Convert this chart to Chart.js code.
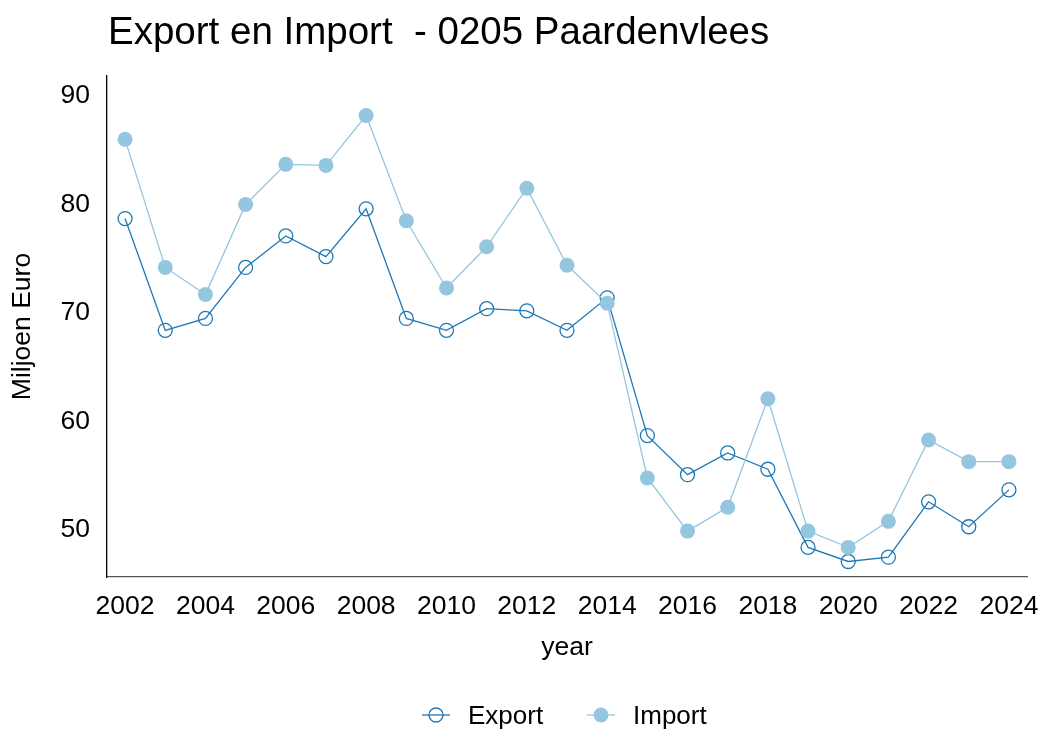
<!DOCTYPE html>
<html>
<head>
<meta charset="utf-8">
<script src="https://cdn.jsdelivr.net/npm/chart.js@4"></script>
<style>
  body { margin: 0; background: #fff; font-family: "Liberation Sans", Arial, sans-serif; }
  #wrap { position: relative; width: 1043px; height: 729px; }
  #title { position: absolute; left: 108px; top: 12px; font-size: 38.5px; line-height: 38px; color: #000; white-space: pre; }
  .item { position: absolute; top: 697px; display: flex; align-items: center; font-size: 26px; line-height: 36px; }
  .item svg { margin-right: 16px; }
</style>
</head>
<body>
<div id="wrap">
  <canvas id="tradeChart" width="1043" height="729"></canvas>
  <div id="title">Export en Import  - 0205 Paardenvlees</div>
  <div class="item" style="left: 420px;">
    <svg width="32" height="20"><line x1="2" y1="10" x2="30" y2="10" stroke="#1f78b4" stroke-width="1.3"/><circle cx="16" cy="10" r="7" fill="none" stroke="#1f78b4" stroke-width="1.3"/></svg>
    <span>Export</span>
  </div>
  <div class="item" style="left: 585px;">
    <svg width="32" height="20"><line x1="2" y1="10" x2="30" y2="10" stroke="#94c6e0" stroke-width="1.3"/><circle cx="16" cy="10" r="7.5" fill="#94c6e0"/></svg>
    <span>Import</span>
  </div>
</div>
<script>
// Data (miljoen euro)
const years = [2002, 2003, 2004, 2005, 2006, 2007, 2008, 2009, 2010, 2011, 2012,
               2013, 2014, 2015, 2016, 2017, 2018, 2019, 2020, 2021, 2022, 2023, 2024];
const exportValues = [78.7, 68.4, 69.5, 74.2, 77.1, 75.2, 79.6, 69.5, 68.4, 70.4, 70.2,
                      68.4, 71.4, 58.7, 55.1, 57.1, 55.6, 48.4, 47.1, 47.5, 52.6, 50.3, 53.7];
const importValues = [86.0, 74.2, 71.7, 80.0, 83.7, 83.6, 88.2, 78.5, 72.3, 76.1, 81.5,
                      74.4, 70.9, 54.8, 49.9, 52.1, 62.1, 49.9, 48.4, 50.8, 58.3, 56.3, 56.3];
const xTicks = [2002, 2004, 2006, 2008, 2010, 2012, 2014, 2016, 2018, 2020, 2022, 2024];
const yTicks = [50, 60, 70, 80, 90];

const exportColor = '#1f78b4';
const importColor = '#94c6e0';
const font = { family: '"Liberation Sans", Arial, sans-serif', size: 26.5 };

document.addEventListener('DOMContentLoaded', () => {
    const ctx = document.getElementById('tradeChart');
    new Chart(ctx, {
        type: 'line',
        data: {
            datasets: [{
                label: 'Export',
                data: years.map((y, i) => ({ x: y, y: exportValues[i] })),
                borderColor: exportColor,
                borderWidth: 1.3,
                pointRadius: 7,
                pointBorderWidth: 1.3,
                pointBorderColor: exportColor,
                pointBackgroundColor: 'rgba(0,0,0,0)',
                tension: 0,
                order: 1,
                clip: false
            }, {
                label: 'Import',
                data: years.map((y, i) => ({ x: y, y: importValues[i] })),
                borderColor: importColor,
                borderWidth: 1.3,
                pointRadius: 7.5,
                pointBorderWidth: 0,
                pointBackgroundColor: importColor,
                tension: 0,
                order: 0,
                clip: false
            }]
        },
        options: {
            responsive: false,
            animation: false,
            layout: { padding: { top: 76, right: 16, left: 0, bottom: 40 } },
            plugins: { legend: { display: false }, title: { display: false }, tooltip: { enabled: false } },
            scales: {
                x: {
                    type: 'linear',
                    min: 2001.55,
                    max: 2024.45,
                    afterBuildTicks: axis => { axis.ticks = xTicks.map(v => ({ value: v })); },
                    afterFit: axis => {
                        axis.height = 729 - 577 - 40;
                        axis.paddingLeft = 0;
                        axis.paddingRight = 0;
                    },
                    grid: { display: false, drawTicks: false },
                    border: { display: true, color: '#555', width: 1.3 },
                    ticks: { color: '#000', font, padding: 14, callback: v => String(v), maxRotation: 0 },
                    title: { display: true, text: 'year', color: '#000', font, padding: { top: 0, bottom: 25 } }
                },
                y: {
                    min: 45.67,
                    max: 91.84,
                    afterBuildTicks: axis => { axis.ticks = yTicks.map(v => ({ value: v })); },
                    afterFit: axis => { axis.width = 107; },
                    grid: { display: false, drawTicks: false },
                    border: { display: true, color: '#000', width: 1.3 },
                    ticks: { color: '#000', font, padding: 17 },
                    title: { display: true, text: 'Miljoen Euro', color: '#000', font, padding: { top: 7, bottom: 0 } }
                }
            }
        }
    });
});
</script>
</body>
</html>
